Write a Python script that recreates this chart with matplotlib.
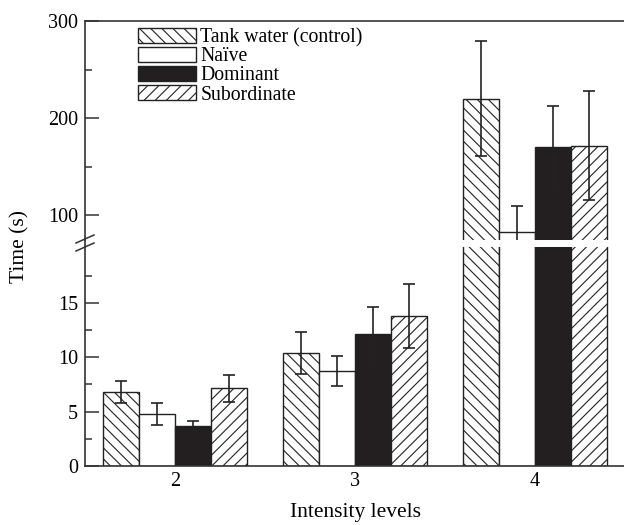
import numpy as np
import matplotlib
matplotlib.use('Agg')
import matplotlib.pyplot as plt
from matplotlib.lines import Line2D

plt.rcParams['font.family'] = ['Liberation Serif', 'DejaVu Serif']
plt.rcParams['hatch.linewidth'] = 0.8
plt.rcParams['hatch.color'] = '#222222'

levels = [2, 3, 4]
series = ['Tank water (control)', 'Naïve', 'Dominant', 'Subordinate']

tank_mean = [6.8, 10.4, 220]
tank_err = [1.0, 1.95, 59]
naive_mean = [4.8, 8.75, 83]
naive_err = [1.0, 1.4, 27]
dom_mean = [3.65, 12.1, 170]
dom_err = [0.45, 2.5, 42]
sub_mean = [7.15, 13.8, 171.5]
sub_err = [1.25, 2.9, 56]

means = [tank_mean, naive_mean, dom_mean, sub_mean]
errs = [tank_err, naive_err, dom_err, sub_err]
fills = ['white', 'white', '#231f20', 'white']
back = chr(92)
hatches = [back * 3, None, None, '/' * 3]

W, H = 624, 525
fig = plt.figure(figsize=(W / 100, H / 100), dpi=100)

left = 85 / W
width = 540 / W
ax_top = fig.add_axes([left, (H - 240) / H, width, 219 / H])
ax_bot = fig.add_axes([left, (H - 466) / H, width, 219 / H])

bw = 0.2
x = np.array(levels, dtype=float)
spine_col = '#333333'
fs = 14.5

for ax in (ax_top, ax_bot):
    for i in range(4):
        xs = x + (i - 1.5) * bw
        ax.bar(xs, means[i], bw, color=fills[i], edgecolor='#222222',
               hatch=hatches[i], linewidth=1.0, label=series[i], zorder=2)
        ax.errorbar(xs, means[i], yerr=errs[i], fmt='none', ecolor='#222222',
                    elinewidth=1.2, capsize=4.5, capthick=1.2, zorder=3)
    ax.set_xlim(1.5, 4.5)
    ax.spines['right'].set_visible(False)
    for s in ('left', 'top', 'bottom'):
        ax.spines[s].set_color(spine_col)
        ax.spines[s].set_linewidth(1.2)
    ax.tick_params(axis='y', direction='in', length=10, width=1.1,
                   color=spine_col, labelsize=fs, pad=5)
    ax.tick_params(axis='y', which='minor', direction='in', length=5,
                   width=1.1, color=spine_col)

ax_top.set_ylim(74.5, 300)
ax_top.set_yticks([100, 200, 300])
ax_top.set_yticks([150, 250], minor=True)
ax_top.spines['bottom'].set_visible(False)
ax_top.tick_params(axis='x', bottom=False, labelbottom=False)

ax_bot.set_ylim(0, 20.15)
ax_bot.set_yticks([0, 5, 10, 15])
ax_bot.set_yticks([2.5, 7.5, 12.5, 17.5], minor=True)
ax_bot.spines['top'].set_visible(False)
ax_bot.set_xticks(levels)
ax_bot.set_xticklabels([str(v) for v in levels])
ax_bot.tick_params(axis='x', length=0, labelsize=fs, pad=4)
ax_bot.set_xlabel('Intensity levels', fontsize=15.5, labelpad=9)

fig.text(20 / W, 1 - 246 / H, 'Time (s)', rotation=90, fontsize=15.5,
         ha='center', va='center')

# continuous spine through the gap plus the break marks
sx = left
fig.add_artist(Line2D([sx, sx], [(H - 247) / H, (H - 240) / H],
                      transform=fig.transFigure, color=spine_col, lw=1.2))
for yb in (239, 247):
    fig.add_artist(Line2D([(85 - 9) / W, (85 + 9) / W],
                          [(H - yb - 4) / H, (H - yb + 4) / H],
                          transform=fig.transFigure, color=spine_col, lw=1.1))

ax_top.legend(loc='upper left', bbox_to_anchor=(138 / W, 1 - 28 / H),
              bbox_transform=fig.transFigure, frameon=False, fontsize=14.2,
              handlelength=2.95, handleheight=0.75, handletextpad=0.2,
              labelspacing=0.0, borderpad=0, borderaxespad=0)

fig.savefig('out.png', dpi=100)
